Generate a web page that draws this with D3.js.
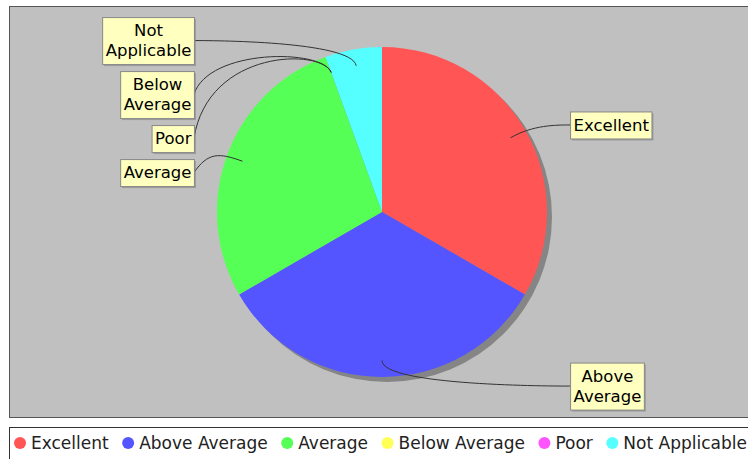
<!DOCTYPE html>
<html>
<head>
<meta charset="utf-8">
<script src="https://cdn.jsdelivr.net/npm/d3@7"></script>
<style>
body { margin: 0; background: #fff; }
text { font-family: "DejaVu Sans", sans-serif; }
</style>
</head>
<body>
<svg id="chart" width="748" height="459"></svg>
<script>
// Responses per rating
var categories = ['Excellent', 'Above Average', 'Average', 'Below Average', 'Poor', 'Not Applicable'];
var counts = [6, 6, 5, 0, 0, 1];
var colors = ['#ff5555', '#5555ff', '#55ff55', '#ffff55', '#ff55ff', '#55ffff'];

var width = 748, height = 459;
var cx = 382, cy = 212, radius = 165;
var linkR = radius * 1.055;   // elbow circle
var linkPct = 0.9;            // where the link touches the slice
var labelGap = 14;
var fontSize = 16.5, lineH = 20, padX = 3, padY = 3.5;

var svg = d3.select('#chart');

// plot background
svg.append('rect')
    .attr('x', 9.5).attr('y', 6.5)
    .attr('width', 760).attr('height', 411)
    .attr('fill', '#c0c0c0')
    .attr('stroke', '#555').attr('stroke-width', 1);

var pie = d3.pie().sort(null).value(function (d) { return d; });
var arcs = pie(counts);
var arc = d3.arc().innerRadius(0).outerRadius(radius);

// shadow
svg.append('circle')
    .attr('cx', cx + 5).attr('cy', cy + 5).attr('r', radius)
    .attr('fill', '#858585');

var g = svg.append('g').attr('transform', 'translate(' + cx + ',' + cy + ')');
g.selectAll('path.slice')
    .data(arcs.filter(function (d) { return d.value > 0; }))
    .enter().append('path')
    .attr('class', 'slice')
    .attr('d', arc)
    .attr('fill', function (d) { return colors[d.index]; });

// ---- labels ----
var measure = svg.append('text').attr('font-size', fontSize).attr('visibility', 'hidden');
function textWidth(s) {
    measure.text(s);
    return measure.node().getComputedTextLength();
}

var labels = arcs.map(function (d, i) {
    var mid = (d.startAngle + d.endAngle) / 2;
    var lines = categories[i].indexOf(' ') >= 0 ? categories[i].split(' ') : [categories[i]];
    var w = d3.max(lines, textWidth) + padX * 2;
    var h = lines.length * lineH + padY * 2;
    return {
        i: i, mid: mid, lines: lines, w: w, h: h,
        side: Math.sin(mid) > -1e-6 ? 'right' : 'left',
        natY: cy - Math.cos(mid) * linkR
    };
});
measure.remove();

// push overlapping labels downwards on each side
['left', 'right'].forEach(function (side) {
    var list = labels.filter(function (l) { return l.side == side; });
    list.sort(function (a, b) { return (a.natY - b.natY) || (a.i - b.i); });
    var bottom = -Infinity;
    list.forEach(function (l) {
        l.top = Math.max(l.natY - l.h / 2, bottom + 7);
        bottom = l.top + l.h;
        l.y = l.top + l.h / 2;
    });
});

labels.forEach(function (l) {
    var left = l.side == 'left';
    var anchorX = left ? cx - linkR : cx + linkR;
    var targetX = left ? anchorX - labelGap : anchorX + labelGap;
    var elbowX = cx + Math.sin(l.mid) * linkR;
    var elbowY = cy - Math.cos(l.mid) * linkR;
    var linkX = cx + Math.sin(l.mid) * radius * linkPct;
    var linkY = cy - Math.cos(l.mid) * radius * linkPct;

    var p = d3.path();
    p.moveTo(targetX, l.y);
    p.bezierCurveTo(anchorX, elbowY, elbowX, elbowY, linkX, linkY);
    svg.append('path')
        .attr('d', p.toString())
        .attr('fill', 'none')
        .attr('stroke', '#333')
        .attr('stroke-width', 1);

    var bx = left ? targetX - l.w : targetX;
    var box = svg.append('g').attr('transform', 'translate(' + bx + ',' + l.top + ')');
    box.append('rect')
        .attr('x', 2).attr('y', 2)
        .attr('width', l.w).attr('height', l.h)
        .attr('fill', 'rgba(120,120,120,0.5)');
    box.append('rect')
        .attr('x', 0.5).attr('y', 0.5)
        .attr('width', l.w).attr('height', l.h)
        .attr('fill', '#ffffc0')
        .attr('stroke', '#888').attr('stroke-width', 1);
    l.lines.forEach(function (s, k) {
        box.append('text')
            .attr('x', l.w / 2 + 0.5)
            .attr('y', padY + lineH * k + lineH * 0.78)
            .attr('text-anchor', 'middle')
            .attr('font-size', fontSize)
            .attr('fill', '#000')
            .text(s);
    });
});

// ---- legend ----
svg.append('rect')
    .attr('x', 9.5).attr('y', 427.5)
    .attr('width', 760).attr('height', 40)
    .attr('fill', '#fff')
    .attr('stroke', '#333').attr('stroke-width', 1);

var legend = svg.append('g').attr('transform', 'translate(14,443)');
var x = 0;
categories.forEach(function (c, i) {
    var item = legend.append('g').attr('transform', 'translate(' + x + ',0)');
    item.append('circle')
        .attr('cx', 6).attr('cy', 0).attr('r', 6)
        .attr('fill', colors[i]);
    var t = item.append('text')
        .attr('x', 17).attr('y', 6)
        .attr('font-size', 17)
        .attr('fill', '#222')
        .text(c);
    x += 17 + t.node().getComputedTextLength() + 13.5;
});
</script>
</body>
</html>
